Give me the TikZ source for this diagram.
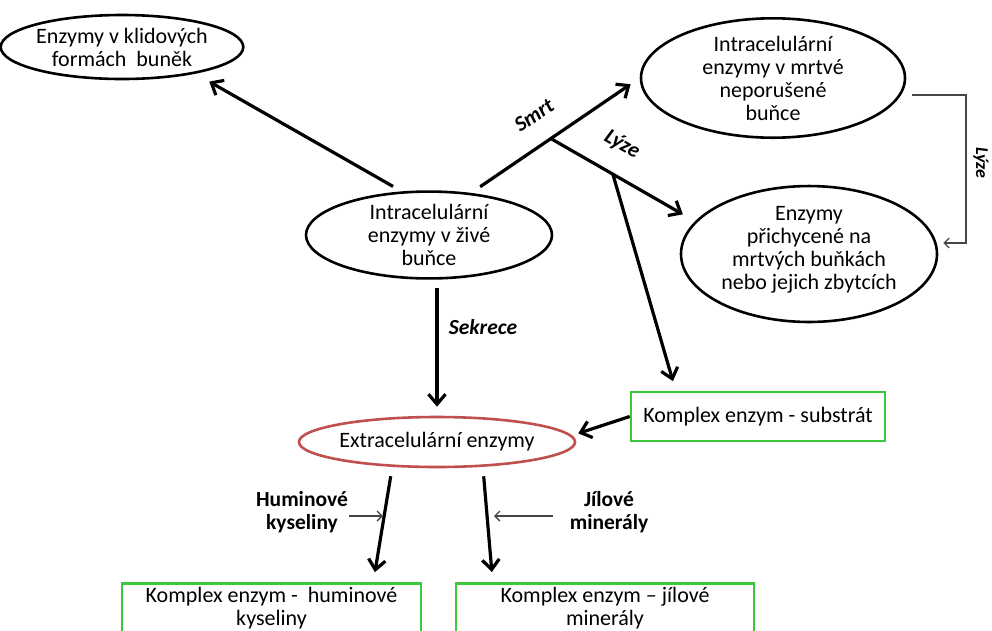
\documentclass[tikz,border=0pt]{standalone}
\usepackage{fontspec}
\setmainfont{Carlito}
\usetikzlibrary{arrows.meta,shapes.geometric,calc}
\definecolor{boxgreen}{RGB}{60,200,60}
\definecolor{ellred}{RGB}{192,80,77}
\definecolor{thingray}{RGB}{70,70,70}
\begin{document}
\begin{tikzpicture}[x=1pt,y=-1pt,
  ell/.style={ellipse,draw=black,line width=2.6pt,inner sep=0pt,align=center,
    font=\fontsize{22}{23}\selectfont},
  gbox/.style={rectangle,draw=boxgreen,line width=2.6pt,inner sep=0pt,align=center,
    font=\fontsize{22}{23}\selectfont},
  lbl/.style={align=center,inner sep=1pt,font=\bfseries\fontsize{21.5}{23}\selectfont},
  elbl/.style={inner sep=1pt,font=\bfseries\itshape\fontsize{21.5}{23}\selectfont},
  bigarrow/.style={line width=3.2pt,
    -{Straight Barb[length=10pt,width=17pt,line width=3.2pt]}},
  thinarrow/.style={line width=1.3pt,draw=thingray,
    -{Straight Barb[length=5pt,width=10pt,line width=1.3pt]}}
]
\useasboundingbox (0,0) rectangle (992,630);
\fill[white] (0,0) rectangle (992,630);
\clip (0,0) rectangle (992,630);

% nodes
\node[ell,minimum width=224pt,minimum height=64pt] (e1) at (122,47) {Enzymy v klidových\\formách~ buněk};
\node[ell,minimum width=264pt,minimum height=118pt] (e2) at (773,78) {Intracelulární\\enzymy v mrtvé\\neporušené\\buňce};
\node[ell,minimum width=256pt,minimum height=114pt] (e3) at (809,254) {Enzymy\\přichycené na\\mrtvých buňkách\\nebo jejich zbytcích\\[-10pt]};
\node[ell,minimum width=246pt,minimum height=84pt] (e4) at (429,235) {Intracelulární\\enzymy v živé\\buňce};
\node[ell,draw=ellred,minimum width=242pt,minimum height=50pt] (e5) at (437,442) {Extracelulární enzymy};

\node[gbox,minimum width=254pt,minimum height=49pt] (sub) at (758,416.5) {Komplex enzym - substrát};
\node[gbox,anchor=north,minimum width=299pt,minimum height=50pt] (hum) at (271.5,582) {Komplex enzym -~ huminové\\kyseliny};
\node[gbox,anchor=north,minimum width=298pt,minimum height=50pt] (jil) at (605,582) {Komplex enzym – jílové\\minerály};

% labels
\node[lbl] (humlbl) at (302,512) {Huminové\\kyseliny};
\node[lbl] (jillbl) at (609,512) {Jílové\\minerály};
\node[elbl,rotate=34] (smrt) at (534,115) {Smrt};
\node[elbl,rotate=-30] (lyze1) at (622,145) {Lýze};
\node[elbl] (sekr) at (483,327) {Sekrece};
\node[elbl,rotate=-90,font=\bfseries\itshape\fontsize{18}{20}\selectfont] (lyze2) at (981,163) {Lýze};

% junctions
\coordinate (J1) at ($(e4.45)!0.473!(e2.west)$);
\coordinate (J2) at ($(J1)!0.43!(e3.164)$);

% connectors
\draw[bigarrow,shorten <=10pt,shorten >=16pt] (e4.122) -- (e1.-20);
\draw[bigarrow,shorten <=11pt,shorten >=11pt] (e4.45) -- (e2.west);
\draw[bigarrow,shorten >=14pt] (J1) -- (e3.164);
\draw[bigarrow,shorten >=10pt] (J2) -- ([xshift=46pt]sub.north west);
\draw[bigarrow,shorten <=8pt,shorten >=9pt] (e5.north |- e4.south) -- (e5.north);
\draw[bigarrow,shorten >=2pt] (sub.west) -- ([yshift=8pt]e5.east);
\draw[bigarrow,shorten <=8pt,shorten >=10pt] ([xshift=-45pt]e5.south) -- ([xshift=-49pt]hum.north east);
\draw[bigarrow,shorten <=8pt,shorten >=10pt] ([xshift=46pt]e5.south) -- ([xshift=38pt]jil.north west);

% thin arrows
\coordinate (hx) at (383,516);
\coordinate (jx) at (494,516);
\draw[thinarrow] (humlbl.east |- hx) -- (hx);
\draw[thinarrow] ([xshift=-16pt]jillbl.west |- jx) -- (jx);

% bracket
\coordinate (bk1) at (966,95);
\coordinate (bk2) at (966,243);
\draw[thinarrow] ([xshift=6pt]e2.east |- bk1) -- (bk1) -- (bk2) -- ([xshift=5pt]e3.east |- bk2);
\end{tikzpicture}
\end{document}
